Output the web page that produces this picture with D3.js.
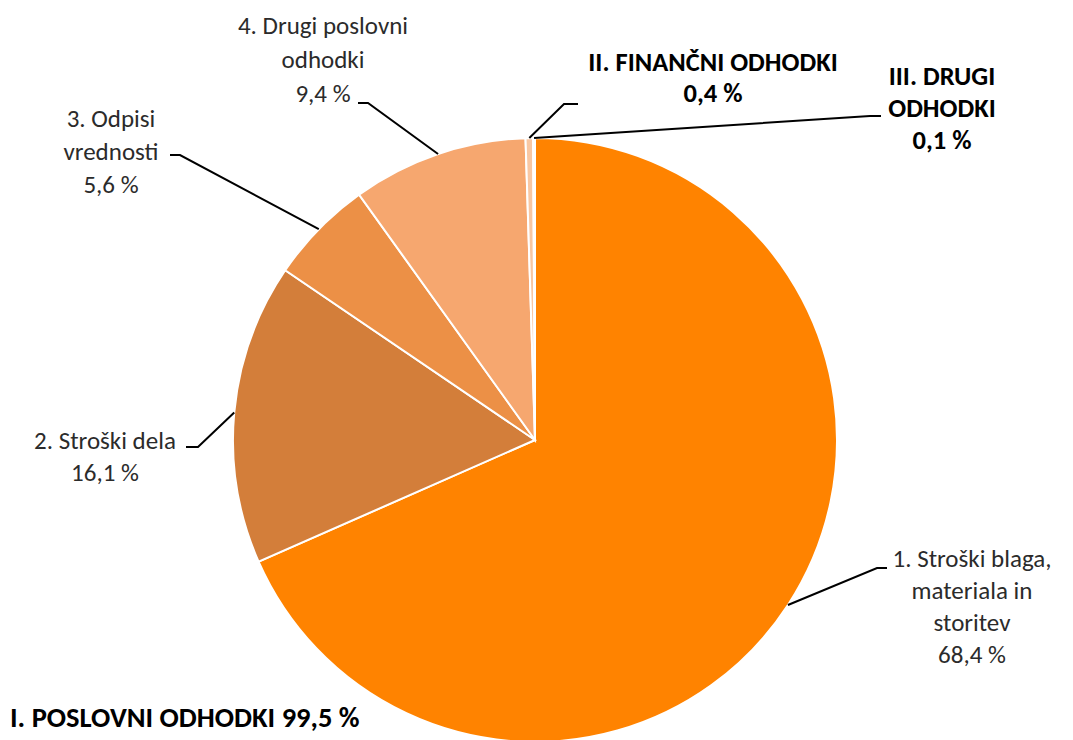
<!DOCTYPE html>
<html lang="sl">
<head>
    <meta charset="UTF-8">
    <title>Odhodki</title>
    <script src="https://d3js.org/d3.v7.min.js"></script>
    <style>
        body {
            margin: 0;
            background: #fff;
            font-family: 'Carlito', 'Lato', sans-serif;
        }
        .lbl { font-size: 25px; fill: #2b2b2b; }
        .bold { font-weight: bold; fill: #000; font-size: 26.5px; }
        .total { font-size: 28.5px; }
        .leader { fill: none; stroke: #000; stroke-width: 2px; }
    </style>
</head>
<body>
<svg id="chart" width="1073" height="740"></svg>

<script>
    // chart data
    const categories = [
        "1. Stroški blaga, materiala in storitev",
        "2. Stroški dela",
        "3. Odpisi vrednosti",
        "4. Drugi poslovni odhodki",
        "II. FINANČNI ODHODKI",
        "III. DRUGI ODHODKI"
    ];
    const values = [68.4, 16.1, 5.6, 9.4, 0.4, 0.1];
    const valueLabels = ["68,4 %", "16,1 %", "5,6 %", "9,4 %", "0,4 %", "0,1 %"];
    const colors = ["#ff8300", "#d37e3a", "#ec9046", "#f6a76f", "#f8c7a3", "#fcdcc4"];
    const totalLabel = "I. POSLOVNI ODHODKI 99,5 %";

    // label text lines (wrapped like the original)
    const labelLines = [
        ["1. Stroški blaga,", "materiala in", "storitev", "68,4 %"],
        ["2. Stroški dela", "16,1 %"],
        ["3. Odpisi", "vrednosti", "5,6 %"],
        ["4. Drugi poslovni", "odhodki", "9,4 %"],
        ["II. FINANČNI ODHODKI", "0,4 %"],
        ["III. DRUGI", "ODHODKI", "0,1 %"]
    ];
    const boldLabel = [false, false, false, false, true, true];

    // layout of labels: text centre x, first line y, leader elbow, leader end
    const layout = [
        { tx: 972, ty: 567, lh: 32, ex: 877, ey: 568, hx: 887 },
        { tx: 105, ty: 449, lh: 32, ex: 198, ey: 447, hx: 186 },
        { tx: 111, ty: 127, lh: 33, ex: 180, ey: 155, hx: 170 },
        { tx: 323, ty: 34, lh: 34, ex: 368, ey: 103, hx: 358 },
        { tx: 713, ty: 71, lh: 31, ex: 564, ey: 104, hx: 578 },
        { tx: 942, ty: 85, lh: 32, ex: 870, ey: 116, hx: 881 }
    ];

    const svg = d3.select("#chart");
    const cx = 535, cy = 440, r = 302;

    const pie = d3.pie().sort(null).value(d => d);
    const arcs = pie(values);
    const arc = d3.arc().innerRadius(0).outerRadius(r);

    const g = svg.append("g").attr("transform", `translate(${cx},${cy})`);

    g.selectAll("path.slice")
        .data(arcs)
        .enter().append("path")
        .attr("class", "slice")
        .attr("d", arc)
        .attr("fill", (d, i) => colors[i])
        .attr("stroke", "#fff")
        .attr("stroke-width", 2);

    // leader lines from slice edge to labels
    arcs.forEach((d, i) => {
        const a = (d.startAngle + d.endAngle) / 2;
        const px = cx + r * Math.sin(a);
        const py = cy - r * Math.cos(a);
        const L = layout[i];
        svg.append("path")
            .attr("class", "leader")
            .attr("d", d3.line()([[px, py], [L.ex, L.ey], [L.hx, L.ey]]));

        const t = svg.append("text")
            .attr("class", "lbl" + (boldLabel[i] ? " bold" : ""))
            .attr("text-anchor", "middle");
        labelLines[i].forEach((s, k) => {
            t.append("tspan")
                .attr("x", L.tx)
                .attr("y", L.ty + k * L.lh)
                .text(s);
        });
    });

    svg.append("text")
        .attr("class", "lbl bold total")
        .attr("x", 10)
        .attr("y", 727)
        .text(totalLabel);
</script>
</body>
</html>
